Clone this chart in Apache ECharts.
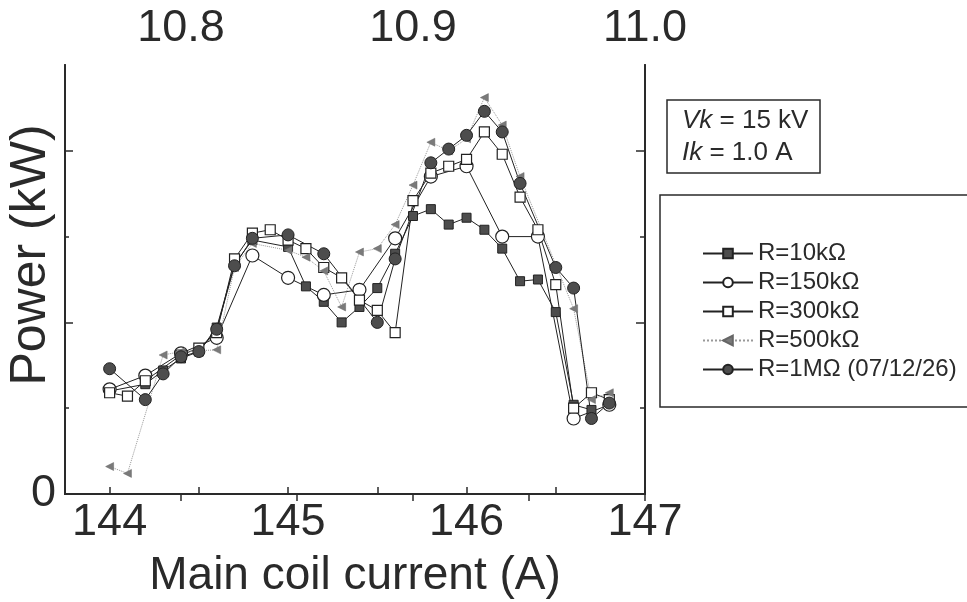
<!DOCTYPE html>
<html><head><meta charset="utf-8">
<script src="https://cdn.jsdelivr.net/npm/echarts@6/dist/echarts.min.js"></script>
<style>html,body{margin:0;padding:0;background:#fff}#c{width:967px;height:602px}</style>
</head><body><div id="c"></div>
<script>
// ---- data (kW vs main coil current A) ----
const seriesNames = ['R=10kΩ', 'R=150kΩ', 'R=300kΩ', 'R=500kΩ', 'R=1MΩ (07/12/26)'];

const r10k_x = [144.0,144.2,144.3,144.4,144.5,144.6,144.7,144.8,145.0,145.1,145.2,145.3,145.4,145.5,145.6,145.7,145.8,145.9,146.0,146.1,146.2,146.3,146.4,146.5,146.6,146.7];
const r10k_y = [0.60,0.64,0.72,0.79,0.83,0.97,1.34,1.48,1.44,1.21,1.12,1.00,1.09,1.20,1.40,1.62,1.66,1.57,1.61,1.54,1.43,1.24,1.25,1.06,0.52,0.49];

const r150k_x = [144.0,144.2,144.4,144.6,144.8,145.0,145.2,145.4,145.6,145.8,146.0,146.2,146.4,146.6,146.8];
const r150k_y = [0.61,0.69,0.82,0.91,1.39,1.26,1.16,1.19,1.49,1.85,1.91,1.50,1.50,0.44,0.52];

const r300k_x = [144.0,144.1,144.2,144.4,144.5,144.6,144.7,144.8,144.9,145.0,145.1,145.2,145.3,145.4,145.5,145.6,145.7,145.8,145.9,146.0,146.1,146.2,146.3,146.4,146.5,146.6,146.7,146.8];
const r300k_y = [0.59,0.57,0.66,0.81,0.85,0.94,1.37,1.52,1.54,1.48,1.43,1.32,1.26,1.13,1.07,0.94,1.71,1.87,1.91,1.95,2.11,1.98,1.73,1.54,1.22,0.50,0.59,0.55];

const r500k_x = [144.0,144.1,144.3,144.4,144.6,144.7,144.8,145.0,145.1,145.2,145.3,145.4,145.5,145.6,145.7,145.8,145.9,146.0,146.1,146.2,146.3,146.6,146.7,146.8];
const r500k_y = [0.16,0.12,0.81,0.83,0.84,1.32,1.46,1.42,1.38,1.30,1.09,1.41,1.43,1.57,1.80,2.05,2.00,2.07,2.31,2.15,1.85,1.08,0.55,0.59];

const r1m_x = [144.0,144.2,144.3,144.4,144.5,144.6,144.7,144.8,145.0,145.2,145.5,145.6,145.8,145.9,146.0,146.1,146.2,146.3,146.5,146.6,146.7,146.8];
const r1m_y = [0.73,0.55,0.70,0.80,0.83,0.96,1.33,1.49,1.51,1.40,1.00,1.37,1.93,2.01,2.09,2.23,2.11,1.81,1.32,1.20,0.44,0.53];

const xTickLabels = [144, 145, 146, 147];
const xTicks = [144, 144.5, 145, 145.5, 146, 146.5, 147];
const topTickLabels = [10.8, 10.9, 11.0];
const topTicks = [10.8, 10.85, 10.9, 10.95, 11.0];
const yMajor = [1, 2];
const yMinor = [0.5, 1.5];

// ---- styling ----
const FONT = "'Liberation Sans',Arial,sans-serif";
const INK = '#2a2a2a';
const BIG = 45;
const zip = (xs, ys) => xs.map((x, i) => [x, ys[i]]);

const axisLine = { show: true, lineStyle: { color: INK, width: 2 } };
function yAx(pos, ticks, len, showLabel) {
  return {
    type: 'value', position: pos, min: 0, max: 2.5, interval: 0.5,
    axisLine: axisLine, splitLine: { show: false },
    axisTick: { show: true, inside: true, length: len, customValues: ticks, lineStyle: { color: INK, width: 1.5 } },
    axisLabel: showLabel ? { show: true, customValues: [0], margin: 9, fontSize: BIG, fontFamily: FONT, color: INK, formatter: v => String(v) } : { show: false }
  };
}

const chart = echarts.init(document.getElementById('c'), null, { renderer: 'canvas' });
const option = {
  backgroundColor: '#fff',
  animation: false,
  grid: { left: 65, right: 322, top: 65, bottom: 108, containLabel: false, outerBoundsMode: 'none' },
  xAxis: [
    {
      type: 'value', position: 'bottom', min: 143.75, max: 147,
      axisLine: axisLine, splitLine: { show: false },
      axisTick: { show: true, inside: true, length: 7, customValues: xTicks, lineStyle: { color: INK, width: 1.5 } },
      axisLabel: { customValues: xTickLabels, margin: 6, fontSize: BIG, fontFamily: FONT, color: INK },
      name: 'Main coil current (A)', nameLocation: 'middle', nameGap: 59,
      nameTextStyle: { fontSize: 46, fontFamily: FONT, color: INK }
    },
    {
      type: 'value', position: 'top', min: 10.75, max: 11.0,
      axisLine: axisLine, splitLine: { show: false },
      axisTick: { show: true, inside: true, length: 7, customValues: topTicks, lineStyle: { color: INK, width: 1.5 } },
      axisLabel: { customValues: topTickLabels, margin: 14, fontSize: BIG, fontFamily: FONT, color: INK, formatter: v => v.toFixed(1) }
    }
  ],
  yAxis: [
    yAx('left', yMajor, 8, true),
    yAx('left', yMinor, 4, false),
    yAx('right', yMajor, 9, false),
    yAx('right', yMinor, 5, false)
  ],
  legend: {
    orient: 'vertical', left: 697, top: 234, itemWidth: 50, itemHeight: 12, itemGap: 0,
    data: seriesNames,
    textStyle: { fontSize: 24, fontFamily: FONT, color: INK, lineHeight: 29 }
  },
  graphic: [
    { type: 'text', x: 31, y: 255, rotation: Math.PI / 2,
      style: { text: 'Power (kW)', font: "50px 'Liberation Sans',Arial,sans-serif", fill: INK, textAlign: 'center', textVerticalAlign: 'middle' } },
    { type: 'rect', shape: { x: 667, y: 100, width: 153, height: 73 }, style: { fill: 'none', stroke: INK, lineWidth: 1.5 } },
    { type: 'text', x: 682, y: 121,
      style: { text: '{i|Vk} = 15 kV', fontSize: 26, fontFamily: FONT, fill: INK, textVerticalAlign: 'middle',
               rich: { i: { fontStyle: 'italic', fontSize: 26, fontFamily: FONT, fill: INK } } } },
    { type: 'text', x: 682, y: 153,
      style: { text: '{i|Ik} = 1.0 A', fontSize: 26, fontFamily: FONT, fill: INK, textVerticalAlign: 'middle',
               rich: { i: { fontStyle: 'italic', fontSize: 26, fontFamily: FONT, fill: INK } } } },
    { type: 'rect', shape: { x: 660, y: 195, width: 330, height: 212 }, style: { fill: 'none', stroke: INK, lineWidth: 1.5 } }
  ],
  series: [
    { name: seriesNames[0], type: 'line', data: zip(r10k_x, r10k_y), symbol: 'rect', symbolSize: 9,
      itemStyle: { color: '#4d4d4d', borderColor: '#222', borderWidth: 1 }, lineStyle: { color: '#222', width: 1 } },
    { name: seriesNames[1], type: 'line', data: zip(r150k_x, r150k_y), symbol: 'circle', symbolSize: 13,
      itemStyle: { color: '#fff', borderColor: '#222', borderWidth: 1.2 }, lineStyle: { color: '#222', width: 1 } },
    { name: seriesNames[2], type: 'line', data: zip(r300k_x, r300k_y), symbol: 'rect', symbolSize: 10,
      itemStyle: { color: '#fff', borderColor: '#222', borderWidth: 1.2 }, lineStyle: { color: '#222', width: 1 } },
    { name: seriesNames[3], type: 'line', data: zip(r500k_x, r500k_y), symbol: 'triangle', symbolSize: 8, symbolRotate: 90,
      itemStyle: { color: '#7a7a7a', borderColor: '#666', borderWidth: 0.5 }, lineStyle: { color: '#999', width: 1, type: 'dotted' } },
    { name: seriesNames[4], type: 'line', data: zip(r1m_x, r1m_y), symbol: 'circle', symbolSize: 12,
      itemStyle: { color: '#4d4d4d', borderColor: '#222', borderWidth: 1 }, lineStyle: { color: '#222', width: 1 } }
  ]
};
chart.setOption(option);
</script></body></html>
